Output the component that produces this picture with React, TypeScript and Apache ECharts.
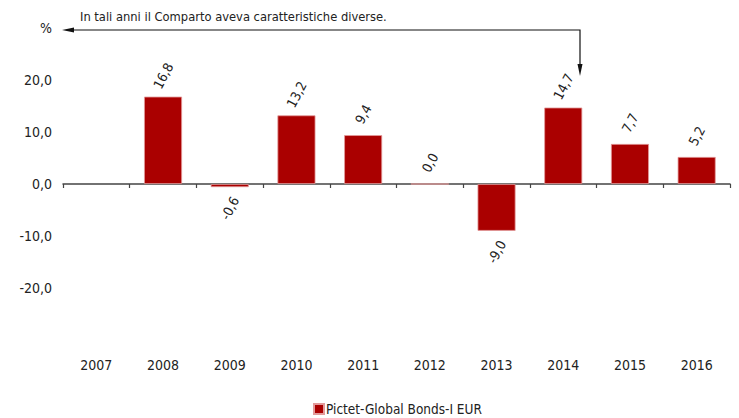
import React, { useEffect, useRef } from "react";
import * as echarts from "echarts";

const years = ["2007", "2008", "2009", "2010", "2011", "2012", "2013", "2014", "2015", "2016"];
const returns: (number | null)[] = [null, 16.8, -0.6, 13.2, 9.4, 0.0, -9.0, 14.7, 7.7, 5.2];
const seriesName = "Pictet-Global Bonds-I EUR";
const note = "In tali anni il Comparto aveva caratteristiche diverse.";
const yMin = -30;
const yMax = 30;
const yStep = 10;

const FONT = "'Liberation Sans Narrow', 'DejaVu Sans Condensed', 'Roboto Condensed', sans-serif";
const fmt = (v: number) => v.toFixed(1).replace(".", ",");

export default function App() {
  const ref = useRef<HTMLDivElement>(null);
  useEffect(() => {
    if (!ref.current) return;
    const chart = echarts.init(ref.current, undefined, { renderer: "svg" });
    const data = returns.map((v) =>
      v === null
        ? null
        : {
            value: v,
            label: {
              position: v < 0 ? "bottom" : "top",
            },
          }
    );
    chart.setOption({
      animation: false,
      textStyle: { fontFamily: FONT },
      grid: { left: 63, right: 9, top: 28, bottom: 78 },
      legend: {
        data: [seriesName],
        left: 313,
        bottom: 2,
        padding: 0,
        icon: "rect",
        itemWidth: 10,
        itemHeight: 10,
        itemGap: 4,
        textStyle: { fontFamily: FONT, fontSize: 13.5, color: "#222", padding: [0, 0, 0, -3] },
      },
      xAxis: [
        {
          type: "category",
          data: years,
          axisLine: { onZero: true, lineStyle: { color: "#444", width: 1.5 } },
          axisTick: { show: true, length: 4, alignWithLabel: false, lineStyle: { color: "#444", width: 1.2 } },
          axisLabel: { show: false },
        },
        {
          type: "category",
          data: years,
          position: "bottom",
          axisLine: { show: false, onZero: false },
          axisTick: { show: false },
          axisLabel: { show: true, margin: 18, fontFamily: FONT, fontSize: 14, color: "#222" },
        },
      ],
      yAxis: {
        type: "value",
        min: yMin,
        max: yMax,
        interval: yStep,
        axisLine: { show: false },
        axisTick: { show: false },
        splitLine: { show: false },
        axisLabel: {
          margin: 11,
          fontFamily: FONT,
          fontSize: 14,
          color: "#222",
          formatter: (v: number) => (v === yMax ? "%" : v === yMin ? "" : fmt(v)),
        },
      },
      series: [
        {
          name: seriesName,
          type: "bar",
          xAxisIndex: 0,
          data,
          barWidth: 38,
          itemStyle: { color: "#AA0000", borderColor: "#e39a9a", borderWidth: 0.8 },
          label: {
            show: true,
            rotate: 62,
            distance: 21,
            align: "center",
            verticalAlign: "middle",
            fontFamily: FONT,
            fontSize: 13.5,
            color: "#222",
            formatter: (p: any) => fmt(p.value),
          },
        },
      ],
      graphic: [
        {
          type: "text",
          left: 80,
          top: 10,
          style: { text: note, fontFamily: FONT, fontSize: 12.8, fill: "#222" },
        },
        {
          type: "polyline",
          shape: { points: [[70, 30], [580, 30], [580, 66]] },
          style: { stroke: "#111", lineWidth: 1.2, fill: "none" },
        },
        {
          type: "polygon",
          shape: { points: [[62, 30], [74, 27.5], [74, 32.5]] },
          style: { fill: "#111" },
        },
        {
          type: "polygon",
          shape: { points: [[580, 76], [577.5, 64], [582.5, 64]] },
          style: { fill: "#111" },
        },
      ],
    });
    return () => chart.dispose();
  }, []);
  return (
    <div
      ref={ref}
      style={{ position: "absolute", left: 0, top: 0, width: 739, height: 418 }}
    />
  );
}
